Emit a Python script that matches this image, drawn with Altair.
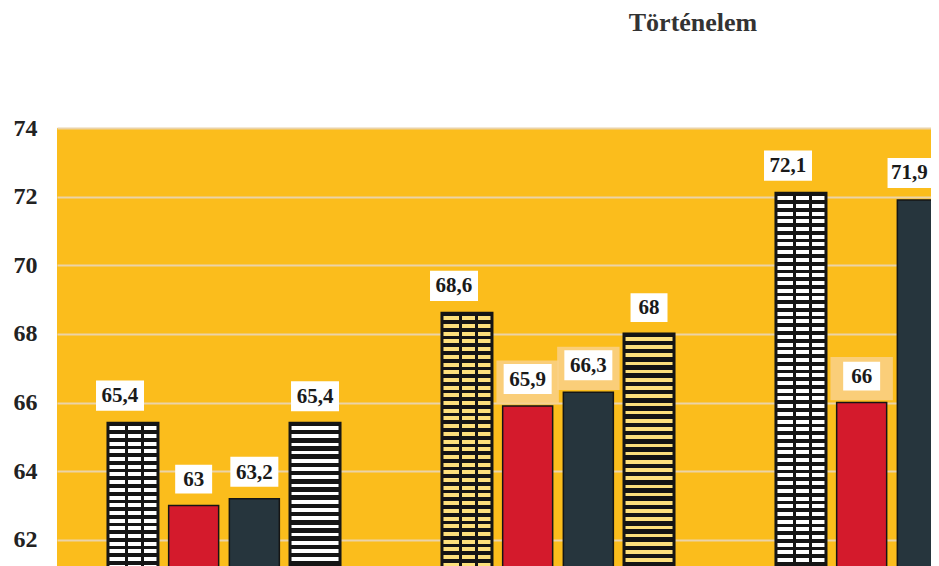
import altair as alt
import pandas as pd

# ---- data ----
groups = ["1", "2", "3"]
series = ["A", "B", "C", "D"]
group1_values = [65.4, 63.0, 63.2, 65.4]
group2_values = [68.6, 65.9, 66.3, 68.0]
group3_values = [72.1, 66.0, 71.9]          # 4th bar is outside the picture
y_ticks = [62, 64, 66, 68, 70, 72, 74]
title_text = "Történelem"

# ---- layout / style constants ----
YMIN, YMAX = 61.24, 74
W, H = 874, 438
PX = H / (YMAX - YMIN)
BASE = 60
BG = "#FBBD1C"
SERIF = "Liberation Serif"
INK = "#151515"

rows = []
for g, vals in zip(groups, [group1_values, group2_values, group3_values]):
    for s, v in zip(series, vals):
        lab = f"{v:g}".replace(".", ",")
        if s == "A":
            kind = "brick"
        elif g == "3" and s == "C":
            kind = "edge"
        else:
            kind = "long" if len(lab) > 2 else "short"
        halo = (g == "2" and s in ("B", "C")) or (g == "3" and s == "B")
        rows.append({"grp": g, "ser": s, "v": v, "lab": lab, "kind": kind, "halo": halo})
df = pd.DataFrame(rows)

X = alt.X("grp:N", scale=alt.Scale(domain=groups, range=[0, 1002],
                                   paddingInner=0, paddingOuter=0), axis=None)
XO = alt.XOffset("ser:N", scale=alt.Scale(domain=series, paddingInner=0.176,
                                          paddingOuter=0.84))
Y = alt.Y("v:Q", scale=alt.Scale(domain=[YMIN, YMAX], nice=False, zero=False),
          axis=alt.Axis(values=y_ticks, grid=True, gridColor="#EBD3A8", gridWidth=2,
                        domain=False, ticks=False, labelFont=SERIF, labelFontSize=24,
                        labelFontWeight="bold", labelColor="#222", labelPadding=20,
                        title=None))

base = alt.Chart(df).encode(x=X, xOffset=XO, y=Y, y2=alt.datum(BASE))


def vstripes(v, light, dark, period, light_px, border=3.0):
    total = (v - BASE) * PX
    stops = [{"offset": 0, "color": dark}]
    pos = border
    while pos + period < total:
        a = pos / total
        b = (pos + light_px) / total
        stops += [{"offset": a, "color": dark}, {"offset": a, "color": light},
                  {"offset": b, "color": light}, {"offset": b, "color": dark}]
        pos += period
    stops.append({"offset": 1, "color": dark})
    return {"gradient": "linear", "x1": 0, "y1": 0, "x2": 0, "y2": 1, "stops": stops}


def joints():
    clear = "rgba(0,0,0,0)"
    stops = [{"offset": 0, "color": clear}]
    for a, b in [(17, 20), (33, 36)]:
        stops += [{"offset": a / 50, "color": clear}, {"offset": a / 50, "color": INK},
                  {"offset": b / 50, "color": INK}, {"offset": b / 50, "color": clear}]
    stops.append({"offset": 1, "color": clear})
    return {"gradient": "linear", "x1": 0, "y1": 0, "x2": 1, "y2": 0, "stops": stops}


layers = []

plain = base.transform_filter("datum.ser == 'B' || datum.ser == 'C'").mark_bar(
    clip=True, stroke=INK, strokeWidth=1.5).encode(
    fill=alt.Fill("ser:N", scale=alt.Scale(domain=["B", "C"], range=["#D41A2C", "#26353D"]),
                  legend=None))
layers.append(plain)

light_col = {"1": "#FFFFFF", "2": "#FDE07C", "3": "#FFFFFF"}
for r in rows:
    if r["ser"] not in ("A", "D"):
        continue
    flt = f"datum.grp == '{r['grp']}' && datum.ser == '{r['ser']}'"
    if r["ser"] == "A":
        grad = vstripes(r["v"], light_col[r["grp"]], INK, 7.7, 4.0)
    else:
        grad = vstripes(r["v"], light_col[r["grp"]], INK, 8.2, 3.6)
    layers.append(base.transform_filter(flt).mark_bar(
        clip=True, fill=grad, stroke=INK, strokeWidth=3))
    if r["ser"] == "A":
        layers.append(base.transform_filter(flt).mark_bar(
            clip=True, fill=joints(), strokeWidth=0))

# faint orange halo behind some label boxes (as in the scan)
halo = alt.Chart(df).transform_filter("datum.halo").mark_point(
    filled=True, size=2304, fill="#F9D18A", opacity=0.85, strokeWidth=0,
    shape="M-1.3,-1.9H1.3V-0.1H-1.3Z").encode(x=X, xOffset=XO, y=Y)
layers.append(halo)

shape_dom = ["brick", "long", "short", "edge"]
shape_rng = ["M-1.54,-1.78H0.46V-0.52H-1.54Z",
             "M-1,-1.75H1V-0.5H-1Z",
             "M-0.77,-1.7H0.77V-0.5H-0.77Z",
             "M-1.45,-1.75H0.45V-0.5H-1.45Z"]
boxes = alt.Chart(df).mark_point(filled=True, size=2304, fill="white", opacity=1,
                                 strokeWidth=0).encode(
    x=X, xOffset=XO, y=Y,
    shape=alt.Shape("kind:N", scale=alt.Scale(domain=shape_dom, range=shape_rng),
                    legend=None))
layers.append(boxes)

txt_kw = dict(font=SERIF, fontSize=21, fontWeight="bold", color="#1a1a1a",
              baseline="middle", align="center")
texts_shift = alt.Chart(df).transform_filter(
    "datum.kind == 'brick' || datum.kind == 'edge'").mark_text(
    dy=-27, dx=-13, **txt_kw).encode(x=X, xOffset=XO, y=Y, text="lab:N")
texts_other = alt.Chart(df).transform_filter(
    "datum.kind == 'long' || datum.kind == 'short'").mark_text(
    dy=-26, **txt_kw).encode(x=X, xOffset=XO, y=Y, text="lab:N")
layers += [texts_shift, texts_other]

chart = alt.layer(*layers).properties(
    width=W, height=H,
    autosize=alt.AutoSizeParams(type="none"),
    padding={"left": 49, "top": 120, "right": 0, "bottom": 0},
    background="white",
    view=alt.ViewBackground(fill=BG, stroke=None),
    title=alt.TitleParams(title_text, font=SERIF, fontSize=26, fontWeight="bold",
                          color="#333", anchor="middle", dx=199, offset=80),
)

chart.save("out.html", embed_options={"renderer": "svg", "actions": False})
